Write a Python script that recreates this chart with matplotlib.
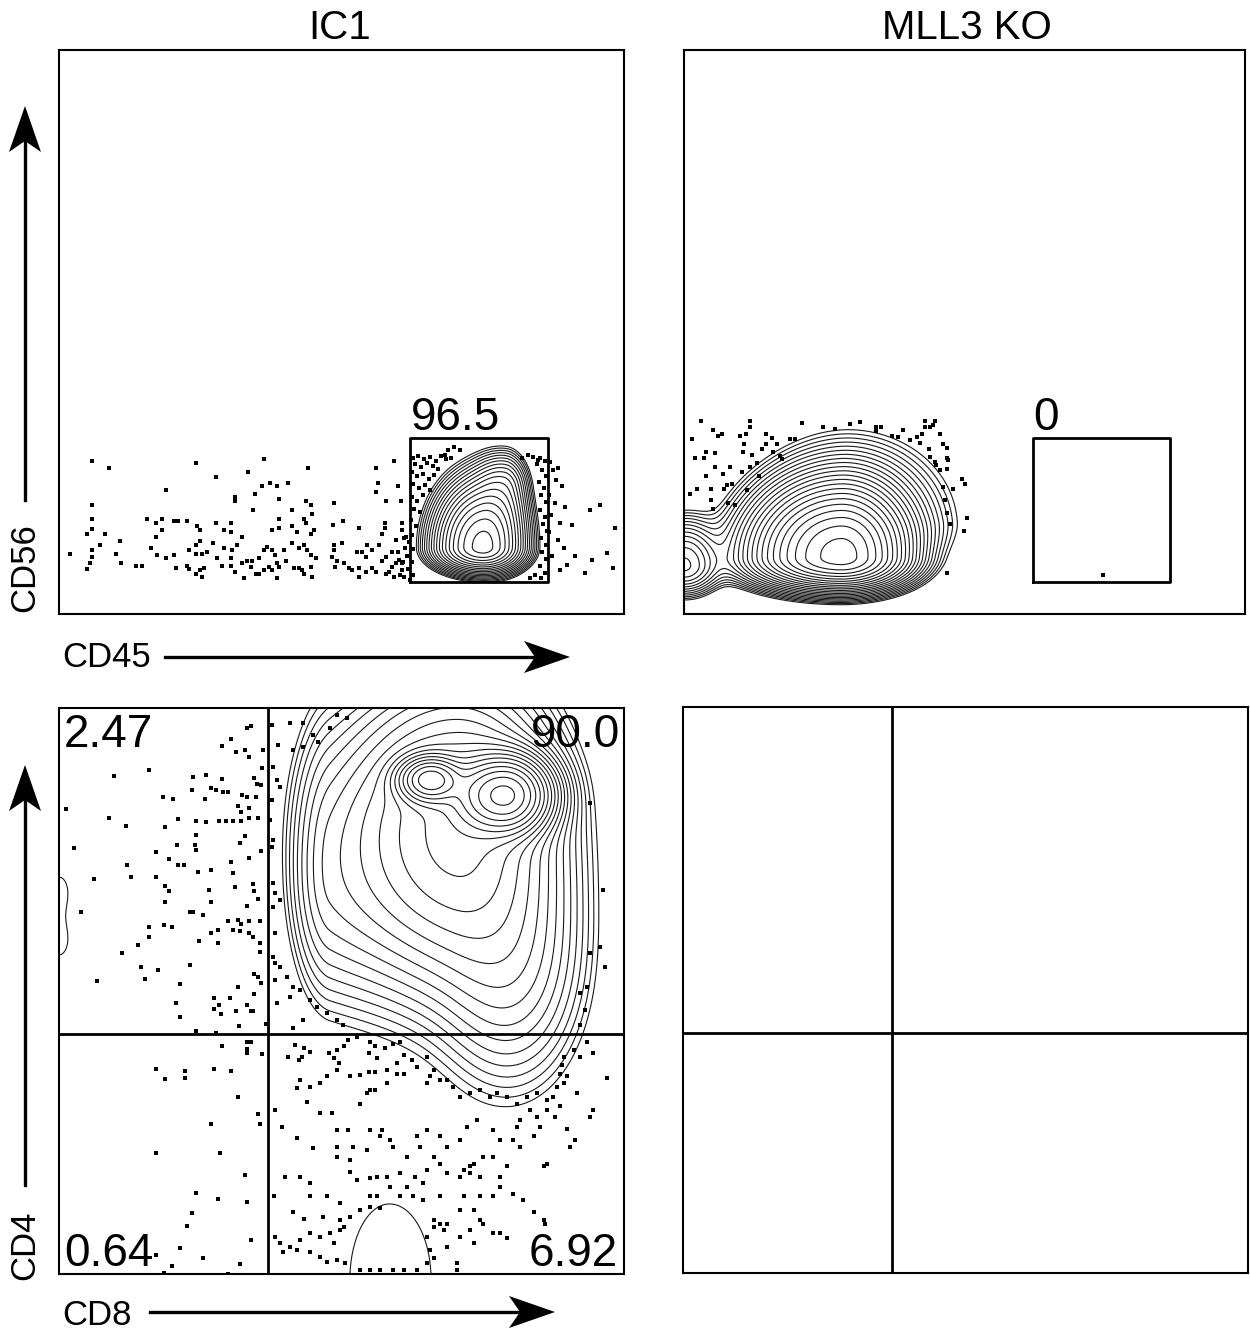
import numpy as np
import matplotlib
matplotlib.use("Agg")
import matplotlib.pyplot as plt
from matplotlib.lines import Line2D
from matplotlib.patches import Polygon

# ---- datos: escala de canal 0-1000 en cada panel ----
titles = ["IC1", "MLL3 KO"]
top_axes = ("CD45", "CD56")
bottom_axes = ("CD8", "CD4")

# gate CD45+ (x0, x1, y0, y1) y su porcentaje
gate_box = (622, 866, 56, 312)
gate_pct = ["96.5", "0"]

# cuadrantes CD8/CD4
quad_x, quad_y = 370, 424
quad_pct = ["2.47", "90.0", "0.64", "6.92"]   # UL, UR, LL, LR

# picos de densidad (x0, y0, sx_izq, sx_der, sy_abajo, sy_arriba, peso)
ic1_peaks = [(750, 118, 42, 36, 22, 58, 1.0),
             (790, 225, 30, 22, 60, 34, 0.15)]
ko_peaks = [(280, 100, 80, 60, 28, 65, 1.0),
            (300, 165, 90, 100, 45, 85, 0.06),
            (0, 85, 35, 35, 28, 45, 0.12)]
cd48_peaks = [(657, 873, 30, 30, 22, 22, 0.8),
              (789, 846, 45, 40, 35, 35, 1.0),
              (705, 780, 105, 90, 140, 130, 0.22),
              (800, 550, 70, 70, 120, 120, 0.05),
              (480, 700, 38, 100, 120, 150, 0.04),
              (585, -10, 105, 110, 200, 200, 0.0075),
              (0, 680, 25, 25, 40, 40, 0.0068),
              (0, 585, 25, 25, 40, 40, 0.0068)]

ic1_dots = [(58, 271), (89, 259), (242, 268), (363, 275), (278, 243), (335, 252), (441, 259), (593, 271),
            (561, 259), (189, 220), (58, 193), (58, 168), (58, 151), (50, 142), (81, 142), (73, 122),
            (58, 113), (58, 101), (55, 90), (50, 80), (19, 106), (108, 129), (101, 106), (110, 90),
            (136, 85), (147, 85), (156, 168), (172, 161), (182, 168), (182, 149), (172, 137), (163, 117),
            (173, 105), (189, 99), (204, 105), (204, 165), (211, 165), (227, 165), (244, 156), (250, 149),
            (250, 129), (242, 122), (230, 113), (242, 106), (253, 106), (262, 110), (273, 126), (278, 161),
            (292, 149), (304, 161), (304, 145), (292, 117), (280, 99), (289, 85), (257, 82), (250, 78),
            (242, 71), (253, 66), (227, 85), (230, 80), (207, 82), (312, 207), (312, 200), (347, 213),
            (359, 227), (373, 232), (386, 227), (405, 232), (389, 204), (343, 184), (324, 137), (315, 122),
            (306, 113), (304, 99), (304, 85), (312, 74), (324, 90), (333, 94), (342, 94), (340, 83),
            (354, 99), (363, 113), (368, 119), (377, 113), (382, 105), (386, 90), (389, 83), (377, 78),
            (372, 83), (363, 78), (354, 71), (349, 71), (327, 64), (386, 64), (402, 94), (398, 113),
            (412, 126), (425, 117), (434, 122), (439, 113), (446, 105), (455, 99), (446, 83), (430, 78),
            (425, 82), (416, 82), (434, 71), (448, 66), (412, 184), (437, 200), (446, 193), (448, 177),
            (434, 168), (437, 161), (451, 149), (446, 142), (412, 156), (421, 145), (389, 168), (389, 152),
            (377, 149), (487, 197), (503, 165), (485, 158), (531, 152), (487, 122), (487, 113), (501, 126),
            (483, 101), (492, 94), (489, 83), (504, 90), (513, 82), (519, 78), (531, 82), (527, 110),
            (536, 110), (543, 101), (545, 122), (554, 113), (566, 122), (531, 66), (543, 74), (554, 82),
            (561, 74), (572, 94), (579, 101), (572, 142), (577, 161), (577, 152), (579, 200), (561, 216),
            (565, 232), (600, 227), (605, 200), (607, 161), (607, 149), (614, 137), (596, 131), (589, 110),
            (589, 83), (584, 74), (579, 71), (593, 66), (611, 66), (607, 90), (602, 96),
            (627, 277), (635, 280), (646, 275), (657, 278), (667, 271), (676, 280), (685, 275), (630, 266),
            (641, 261), (651, 268), (662, 262), (671, 257), (625, 252), (634, 245), (644, 248), (655, 239),
            (664, 246), (627, 230), (637, 223), (648, 229), (657, 220), (625, 207), (634, 200), (644, 211),
            (628, 186), (639, 181), (623, 167), (632, 156), (625, 140), (620, 128), (627, 115), (616, 103),
            (625, 92), (618, 80), (627, 69), (621, 60), (612, 117), (609, 92), (607, 78), (611, 135),
            (604, 69), (596, 90), (600, 110), (689, 291), (699, 296), (710, 291), (683, 282), (694, 277),
            (851, 277), (860, 271), (846, 266), (855, 255), (862, 245), (850, 234), (858, 223), (853, 211),
            (862, 199), (851, 184), (860, 172), (857, 160), (864, 147), (853, 135), (862, 122), (855, 110),
            (862, 98), (851, 85), (860, 73), (853, 64), (843, 69), (834, 64), (848, 273), (839, 278),
            (830, 282), (820, 277), (869, 270), (874, 255), (883, 259), (880, 238), (890, 227), (867, 211),
            (878, 197), (896, 190), (871, 176), (887, 161), (867, 145), (883, 131), (894, 117), (873, 103),
            (899, 87), (887, 78), (913, 103), (908, 158), (940, 184), (958, 193), (984, 152), (970, 108),
            (981, 82), (943, 96), (931, 73)]

ko_dots = [(31, 343), (51, 327), (67, 320), (60, 316), (14, 311), (39, 288), (55, 285), (20, 276),
           (35, 276), (55, 260), (40, 245), (70, 249), (82, 261), (76, 229), (71, 221), (85, 231),
           (48, 221), (23, 221), (11, 213), (48, 202), (51, 187), (79, 196), (91, 193), (112, 220),
           (99, 316), (111, 320), (118, 343), (118, 332), (107, 301), (106, 288), (121, 282), (118, 260),
           (130, 268), (147, 319), (156, 312), (165, 301), (146, 301), (139, 292), (158, 288), (133, 245),
           (103, 251), (171, 280), (174, 274), (189, 311), (198, 311), (210, 339), (248, 332), (269, 328),
           (296, 336), (314, 340), (343, 332), (352, 332), (343, 325), (370, 316), (382, 313), (390, 327),
           (403, 309), (415, 313), (421, 303), (424, 320), (436, 292), (430, 343), (447, 343), (444, 335),
           (430, 332), (439, 332), (456, 319), (462, 301), (468, 294), (438, 279), (447, 270), (450, 264),
           (456, 255), (468, 276), (471, 273), (468, 257), (495, 239), (501, 230), (480, 222), (461, 226),
           (465, 202), (468, 179), (475, 159), (504, 171), (499, 148), (468, 73), (747, 69)]

cd48_dots = [(339, 968), (332, 964), (305, 946), (289, 932), (314, 923), (329, 926), (336, 914), (361, 925),
             (360, 894), (160, 891), (98, 879), (238, 878), (260, 881), (289, 875), (345, 877), (350, 866),
             (358, 864), (269, 858), (278, 855), (290, 852), (299, 852), (236, 856), (324, 847), (332, 842),
             (184, 843), (202, 839), (258, 839), (348, 842), (317, 826), (337, 823), (323, 816), (12, 821),
             (88, 806), (118, 792), (211, 804), (243, 801), (260, 798), (283, 801), (296, 801), (308, 800),
             (323, 800), (337, 805), (352, 806), (243, 776), (188, 789), (329, 773), (240, 758), (208, 758),
             (320, 761), (243, 749), (358, 748), (27, 753), (172, 746), (195, 734), (210, 722), (222, 722),
             (269, 713), (305, 728), (308, 709), (336, 735), (121, 722), (127, 702), (62, 698), (172, 702),
             (188, 686), (195, 676), (246, 711), (266, 678), (311, 683), (343, 689), (346, 676), (352, 663),
             (188, 658), (269, 658), (332, 650), (231, 639), (237, 639), (255, 635), (39, 639), (317, 626),
             (323, 618), (299, 624), (308, 608), (320, 606), (337, 624), (355, 623), (337, 602), (343, 595),
             (355, 585), (160, 613), (186, 616), (200, 613), (247, 589), (269, 602), (281, 608), (281, 585),
             (160, 595), (140, 581), (112, 568), (355, 569), (145, 542), (153, 522), (176, 537), (231, 546),
             (67, 517), (215, 513), (345, 530), (353, 524), (357, 514), (345, 494), (317, 507), (302, 487),
             (274, 487), (284, 475), (274, 468), (286, 459), (313, 464), (207, 479), (214, 454), (332, 476),
             (340, 465), (343, 464), (318, 438), (243, 429), (278, 425), (367, 442),
             (289, 402), (332, 410), (340, 410), (333, 398), (333, 390), (360, 389), (172, 363), (188, 344),
             (223, 358), (223, 346), (274, 363), (305, 358), (317, 312), (353, 283), (355, 265), (269, 265),
             (172, 214), (285, 213), (329, 175), (242, 143), (281, 133), (236, 107), (333, 128), (227, 85),
             (340, 60), (215, 46), (255, 29), (320, 18), (200, 15), (186, 1), (299, 0), (172, 33),
             (377, 970), (409, 973), (432, 973), (492, 988), (480, 965), (510, 982), (388, 935), (414, 926),
             (432, 931), (450, 952), (458, 940), (379, 896), (386, 873), (391, 860), (377, 837), (373, 802),
             (379, 767), (377, 754), (379, 691), (382, 673), (391, 661), (379, 648), (382, 602), (379, 560),
             (382, 549), (391, 542), (404, 525), (382, 519), (414, 507), (427, 502), (444, 484), (409, 489),
             (386, 479), (457, 472), (474, 461), (432, 449), (492, 449), (503, 440), (414, 435), (963, 678),
             (940, 567), (958, 578), (966, 542), (935, 507), (922, 496), (931, 466), (922, 440), (940, 832),
             (418, 404), (433, 399), (445, 393), (430, 384), (424, 378), (406, 384), (477, 390), (492, 396),
             (504, 402), (495, 372), (486, 381), (512, 413), (527, 419), (551, 410), (560, 402), (548, 390),
             (563, 381), (577, 399), (592, 407), (604, 410), (610, 387), (598, 372), (580, 360), (560, 357),
             (548, 357), (533, 351), (515, 349), (492, 360), (474, 349), (462, 337), (445, 331), (427, 343),
             (421, 328), (383, 290), (394, 260), (421, 240), (439, 304), (462, 284), (483, 284), (492, 254),
             (512, 254), (533, 301), (545, 319), (551, 325), (560, 325), (580, 337), (598, 354), (610, 354),
             (624, 378), (633, 366), (651, 384), (663, 360), (657, 349), (651, 337), (675, 343), (686, 343),
             (698, 331), (710, 313), (728, 319), (745, 325), (763, 313), (775, 319), (793, 313), (810, 301),
             (828, 313), (846, 319), (863, 307), (875, 313), (881, 331), (893, 337), (899, 349), (887, 354),
             (890, 369), (893, 384), (911, 396), (922, 384), (934, 410), (946, 390), (970, 346), (917, 319),
             (887, 296), (878, 278), (863, 290), (846, 278), (834, 290), (816, 272), (810, 260), (804, 237),
             (816, 225), (840, 243), (852, 260), (858, 190), (863, 195), (905, 225), (914, 237), (899, 257),
             (946, 290), (940, 278), (769, 254), (781, 237), (740, 272), (722, 260), (710, 237), (686, 225),
             (675, 243), (651, 254), (633, 243), (639, 225), (616, 207), (592, 225), (586, 237), (571, 254),
             (568, 243), (551, 254), (545, 219), (521, 225), (492, 225), (492, 207), (515, 201), (450, 222),
             (445, 160), (427, 172), (400, 172), (380, 137), (415, 110), (433, 98), (468, 101), (498, 95),
             (504, 83), (515, 101), (533, 113), (551, 137), (563, 137), (586, 154), (604, 178), (616, 154),
             (627, 137), (645, 131), (604, 137), (580, 172), (563, 172), (551, 169), (527, 166), (515, 181),
             (551, 119), (568, 116), (498, 125), (474, 137), (445, 137), (480, 72), (498, 78), (486, 54),
             (462, 66), (445, 72), (427, 60), (409, 48), (391, 54), (383, 66), (397, 39), (421, 42),
             (445, 39), (462, 30), (474, 22), (492, 25), (506, 19), (663, 95), (675, 89), (686, 89),
             (663, 83), (651, 66), (657, 42), (663, 28), (651, 19), (681, 78), (710, 113), (728, 78),
             (745, 95), (751, 89), (769, 72), (781, 72), (793, 63), (710, 66), (686, 48), (734, 54),
             (704, 19), (675, 137), (686, 178), (710, 172), (728, 178), (745, 172), (745, 137), (769, 137),
             (781, 154), (804, 142), (822, 131), (840, 110), (858, 95), (860, 89), (781, 172), (793, 190),
             (769, 207), (751, 207), (734, 195), (728, 190), (716, 184), (675, 195), (663, 207), (651, 184),
             (630, 172), (645, 160), (533, 7), (551, 7), (568, 7), (592, 7), (610, 7), (633, 7),
             (704, 7), (734, 113), (716, 137)]

W, H = 1250, 1332
fig = plt.figure(figsize=(W / 100, H / 100), dpi=100)
fig.patch.set_facecolor("white")

gx = np.linspace(0, 1000, 401)
GX, GY = np.meshgrid(gx, gx)

word_font = ["Liberation Sans", "DejaVu Sans"]
num_font = ["Liberation Sans", "DejaVu Sans"]


def density(peaks):
    z = np.zeros_like(GX)
    for x0, y0, sxl, sxr, syd, syu, w in peaks:
        sx = np.where(GX < x0, sxl, sxr)
        sy = np.where(GY < y0, syd, syu)
        z += w * np.exp(-0.5 * (((GX - x0) / sx) ** 2 + ((GY - y0) / sy) ** 2))
    return z


def panel(rect):
    ax = fig.add_axes(rect)
    ax.set_xlim(0, 1000)
    ax.set_ylim(0, 1000)
    ax.set_xticks([])
    ax.set_yticks([])
    for s in ax.spines.values():
        s.set_linewidth(1.5)
    return ax


def contours(ax, peaks, lo, n):
    z = density(peaks)
    levels = np.geomspace(lo, 0.9 * z.max(), n)
    ax.contour(GX, GY, z, levels=levels, colors="#1a1a1a", linewidths=0.8)


def dots(ax, pts):
    p = np.array(pts)
    ax.plot(p[:, 0], p[:, 1], ls="none", marker="s", ms=2.4, mew=0, color="black")


def arrow(x0, y0, x1, y1):
    # coordenadas en pixeles de la figura, origen arriba a la izquierda
    p0 = np.array([x0, y0], float)
    p1 = np.array([x1, y1], float)
    d = (p1 - p0) / np.linalg.norm(p1 - p0)
    nrm = np.array([-d[1], d[0]])
    L, hw, notch = 46, 16, 11
    back = p1 - d * L
    mid = p1 - d * (L - notch)
    to = lambda p: (p[0] / W, 1 - p[1] / H)
    fig.add_artist(Line2D([to(p0)[0], to(mid)[0]], [to(p0)[1], to(mid)[1]],
                          color="black", lw=2.4, transform=fig.transFigure))
    poly = [to(p1), to(back + nrm * hw), to(mid), to(back - nrm * hw)]
    fig.add_artist(Polygon(poly, closed=True, color="black", lw=0, transform=fig.transFigure))


# ---- fila superior: CD45 vs CD56 ----
ax1 = panel([59 / W, 1 - 614 / H, 565 / W, 564 / H])
ax2 = panel([684 / W, 1 - 614 / H, 561 / W, 564 / H])
for ax, peaks, lo, n, pts, pct in [(ax1, ic1_peaks, 0.02, 18, ic1_dots, gate_pct[0]),
                                   (ax2, ko_peaks, 0.012, 22, ko_dots, gate_pct[1])]:
    contours(ax, peaks, lo, n)
    dots(ax, pts)
    gx0, gx1, gy0, gy1 = gate_box
    ax.plot([gx0, gx1, gx1, gx0, gx0], [gy0, gy0, gy1, gy1, gy0], color="black", lw=2.0)
    ax.text(gx0, gy1 + 14, pct, ha="left", va="baseline", fontsize=33, family=num_font)

# ---- fila inferior: CD8 vs CD4 ----
ax3 = panel([59 / W, 1 - 1274 / H, 565 / W, 566 / H])
ax4 = panel([683 / W, 1 - 1273 / H, 565 / W, 566 / H])
contours(ax3, cd48_peaks, 0.006, 20)
dots(ax3, cd48_dots)
for ax in (ax3, ax4):
    ax.axvline(quad_x, color="black", lw=2.0)
    ax.axhline(quad_y, color="black", lw=2.0)
ax3.text(9, 931, quad_pct[0], ha="left", va="baseline", fontsize=33, family=num_font)
ax3.text(993, 931, quad_pct[1], ha="right", va="baseline", fontsize=33, family=num_font)
ax3.text(9, 14, quad_pct[2], ha="left", va="baseline", fontsize=33, family=num_font)
ax3.text(989, 14, quad_pct[3], ha="right", va="baseline", fontsize=33, family=num_font)

# ---- titulos y ejes ----
fig.text(340 / W, 1 - 39 / H, titles[0], ha="center", va="baseline", fontsize=29, family=word_font)
fig.text(967 / W, 1 - 39 / H, titles[1], ha="center", va="baseline", fontsize=29, family=word_font)

fig.text(62 / W, 1 - 667 / H, top_axes[0], ha="left", va="baseline", fontsize=25, family=word_font)
fig.text(25 / W, 1 - 568 / H, top_axes[1], ha="center", va="center", rotation=90,
         fontsize=25, family=word_font)
fig.text(62 / W, 1 - 1325 / H, bottom_axes[0], ha="left", va="baseline", fontsize=25, family=word_font)
fig.text(25 / W, 1 - 1245 / H, bottom_axes[1], ha="center", va="center", rotation=90,
         fontsize=25, family=word_font)

arrow(165, 657, 570, 657)
arrow(25, 500, 25, 106)
arrow(150, 1312, 555, 1312)
arrow(25, 1185, 25, 765)

fig.savefig("out.png", dpi=100, facecolor="white")
